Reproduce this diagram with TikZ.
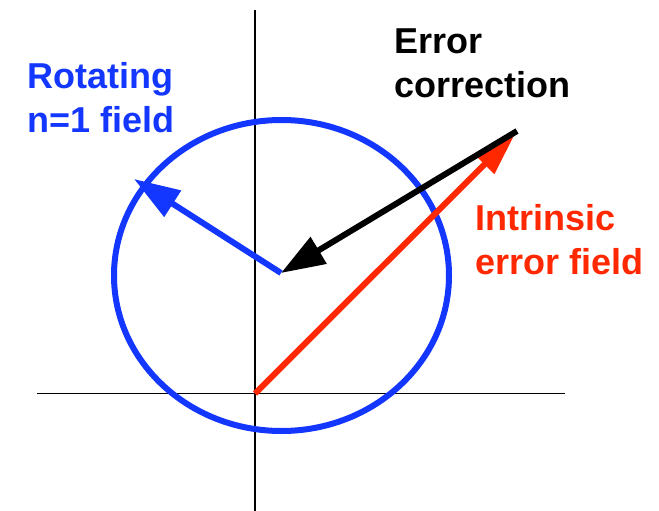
\documentclass[tikz,border=0pt]{standalone}
\usepackage{fontspec}
\setmainfont{Liberation Sans}
\usetikzlibrary{arrows.meta}
\definecolor{fieldblue}{RGB}{20,55,255}
\definecolor{fieldred}{RGB}{255,40,0}
\tikzset{
  axis/.style={line width=1.8pt, black},
  vec/.style={line width=6pt},
  lbl/.style={anchor=base west, inner sep=0pt, align=left,
    font=\fontsize{36}{44}\selectfont\bfseries},
}
\begin{document}
\begin{tikzpicture}[x=1pt,y=-1pt]
\useasboundingbox (0,0) rectangle (659,511);
% coordinates
\coordinate (vtop) at (255,10);
\coordinate (vbot) at (255,511);
\coordinate (hl) at (37,393.5);
\coordinate (hr) at (565,393.5);
\coordinate (O) at (255,393.5);
\coordinate (C) at (281,273);
\coordinate (B) at (134,179);
\coordinate (E) at (517,131);
\coordinate (R) at (515,134);
% axes
\draw[axis] (vtop) -- (vbot);
\draw[axis] (hl) -- (hr);
% rotating field circle
\draw[fieldblue, line width=6pt] (281.5,275.5) ellipse [x radius=167.5, y radius=155.5];
% vectors
\draw[vec, fieldred, -{Triangle[length=43pt,width=26pt]}] (O) -- (R);
\draw[vec, black, -{Triangle[length=44pt,width=30pt]}] (E) -- (C);
\draw[vec, fieldblue, -{Triangle[length=46pt,width=30pt]}] (C) -- (B);
% labels (anchor = baseline of last line)
\node[lbl, text=fieldblue] (lrot) at (27,132) {Rotating\\n=1 field};
\node[lbl, text=black] (lerr) at (394,98) {Error\\correction};
\node[lbl, text=fieldred] (lint) at (475,274) {Intrinsic\\error field};
\end{tikzpicture}
\end{document}
